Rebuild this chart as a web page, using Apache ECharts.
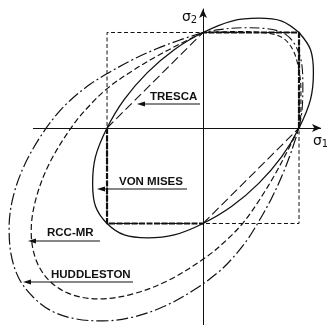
<!DOCTYPE html>
<html>
<head>
<meta charset="utf-8">
<script src="https://cdn.jsdelivr.net/npm/echarts@6/dist/echarts.min.js"></script>
<style>
  html, body { margin: 0; padding: 0; background: #fff; }
  #chart { width: 327px; height: 325px; }
</style>
</head>
<body>
<div id="chart"></div>
<script>
// stress units: yield stress = 1
const vonMises = [
  [1, 1], [0.82, 1.12], [0.58, 1.15], [0.3, 1.12], [0, 1], [-0.3, 0.82], [-0.58, 0.58],
  [-0.82, 0.3], [-1, 0], [-1.12, -0.3], [-1.15, -0.58], [-1.12, -0.82], [-1, -1],
  [-0.82, -1.12], [-0.58, -1.15], [-0.3, -1.12], [0, -1], [0.3, -0.82], [0.58, -0.58],
  [0.82, -0.3], [1, 0], [1.12, 0.3], [1.15, 0.58], [1.12, 0.82], [1, 1]
];
// RCC-MR, first quadrant part and the big loop
const rccTop = [
  [1, 0], [1.02, 0.17], [1.02, 0.4], [0.99, 0.65], [0.93, 0.83], [0.82, 0.95],
  [0.62, 1.0], [0.35, 1.01], [0, 1]
];
const rccLoop = [
  [0, 1], [-0.24, 0.88], [-0.49, 0.747], [-0.74, 0.596], [-0.99, 0.42], [-1.177, 0.241],
  [-1.365, 0.015], [-1.6, -0.37], [-1.74, -0.74], [-1.79, -1.08], [-1.74, -1.38],
  [-1.6, -1.6], [-1.38, -1.74], [-1.08, -1.79], [-0.74, -1.74], [-0.37, -1.6],
  [0.015, -1.365], [0.241, -1.177], [0.42, -0.99], [0.596, -0.74], [0.747, -0.49],
  [0.88, -0.24], [1, 0]
];
// Huddleston
const hudTop = [
  [1, 0], [1.03, 0.17], [1.04, 0.42], [1.03, 0.66], [0.97, 0.85], [0.86, 0.98],
  [0.67, 1.04], [0.4, 1.05], [0.17, 1.03], [0, 1]
];
const hudLoop = [
  [0, 1], [-0.24, 0.922], [-0.49, 0.827], [-0.74, 0.712], [-0.99, 0.574], [-1.177, 0.457],
  [-1.365, 0.306], [-1.51, 0.159], [-1.7, -0.1], [-1.87, -0.41], [-1.98, -0.73],
  [-2.02, -1.04], [-2.0, -1.32], [-1.92, -1.57], [-1.77, -1.77], [-1.57, -1.92],
  [-1.32, -2.0], [-1.04, -2.02], [-0.73, -1.98], [-0.41, -1.87], [-0.1, -1.7],
  [0.159, -1.51], [0.306, -1.365], [0.457, -1.177], [0.574, -0.99], [0.712, -0.74],
  [0.827, -0.49], [0.922, -0.24], [1, 0]
];
// Tresca hexagon
const trescaTopRight = [[1, 0], [1, 1], [0, 1]];
const trescaBottomLeft = [[-1, 0], [-1, -1], [0, -1]];
const trescaDiagUp = [[-1, 0], [0, 1]];
const trescaDiagDown = [[0, -1], [1, 0]];
const square = [[-1, -1], [-1, 1], [1, 1], [1, -1], [-1, -1]];
// horizontal axis extent
const sigma1Axis = [-1.771, 1.229];

const ink = '#111';
let chart = echarts.init(document.getElementById('chart'), null, { renderer: 'canvas' });

function curve (data, type, width, smooth) {
  return {
    type: 'line',
    data: data,
    smooth: smooth ? 0.35 : false,
    showSymbol: false,
    silent: true,
    lineStyle: { color: ink, width: width, type: type }
  };
}

function callout (text, tx, ty, x0, x1, y) {
  return [
    { type: 'text', style: { x: tx, y: ty, text: text, font: 'bold 11.5px "Liberation Sans", Arial', fill: ink, textVerticalAlign: 'bottom' } },
    { type: 'line', shape: { x1: x0 + 6, y1: y, x2: x1, y2: y }, style: { stroke: ink, lineWidth: 1.2 } },
    { type: 'polygon', shape: { points: [[x0, y], [x0 + 8, y - 2.5], [x0 + 8, y + 2.5]] }, style: { fill: ink } }
  ];
}

let axisSeries = curve([], 'solid', 1, false);
axisSeries.markLine = {
  silent: true,
  symbol: ['none', 'arrow'],
  symbolSize: [6, 9],
  label: { show: false },
  lineStyle: { color: ink, width: 1, type: 'solid' },
  data: [[{ coord: [sigma1Axis[0], 0] }, { coord: [sigma1Axis[1], 0] }]]
};

let option = {
  backgroundColor: '#fff',
  animation: false,
  grid: { left: 0, right: 6, top: 9, bottom: 0 },
  xAxis: {
    type: 'value',
    min: -2.115,
    max: 1.229,
    axisLine: { show: false },
    axisTick: { show: false },
    axisLabel: { show: false },
    splitLine: { show: false }
  },
  yAxis: {
    type: 'value',
    min: -2.063,
    max: 1.246,
    axisLine: { onZero: true, symbol: ['none', 'arrow'], symbolSize: [6, 9], lineStyle: { color: ink, width: 1 } },
    axisTick: { show: false },
    axisLabel: { show: false },
    splitLine: { show: false }
  },
  series: [
    axisSeries,
    curve(square, [4, 2.5], 1, false),
    curve(trescaTopRight, [6, 1.5], 2.2, false),
    curve(trescaBottomLeft, [6, 1.5], 2.2, false),
    curve(trescaDiagUp, [9, 4], 1.1, false),
    curve(trescaDiagDown, [9, 4], 1.1, false),
    curve(vonMises, 'solid', 1.3, true),
    curve(rccTop, [5, 3], 1.1, true),
    curve(rccLoop, [6, 3], 1.2, true),
    curve(hudTop, [10, 3, 2, 3], 1.1, true),
    curve(hudLoop, [12, 3, 2, 3], 1.2, true)
  ],
  graphic: [].concat(
    callout('TRESCA', 150, 103, 137, 200, 104),
    callout('VON MISES', 119, 188, 97, 187, 189),
    callout('RCC-MR', 47, 239, 28, 100, 241),
    callout('HUDDLESTON', 51, 281, 23, 133, 282),
    [
      { type: 'text', style: { x: 182, y: 25, text: '{s|σ}{b|2}', rich: { s: { font: '14px "DejaVu Sans"', fill: ink }, b: { font: '10px "DejaVu Sans"', fill: ink, verticalAlign: 'bottom', padding: [6, 0, 0, 0] } }, textVerticalAlign: 'bottom' } },
      { type: 'text', style: { x: 313, y: 149, text: '{s|σ}{b|1}', rich: { s: { font: '14px "DejaVu Sans"', fill: ink }, b: { font: '10px "DejaVu Sans"', fill: ink, verticalAlign: 'bottom', padding: [6, 0, 0, 0] } }, textVerticalAlign: 'bottom' } }
    ]
  )
};
chart.setOption(option);
</script>
</body>
</html>
